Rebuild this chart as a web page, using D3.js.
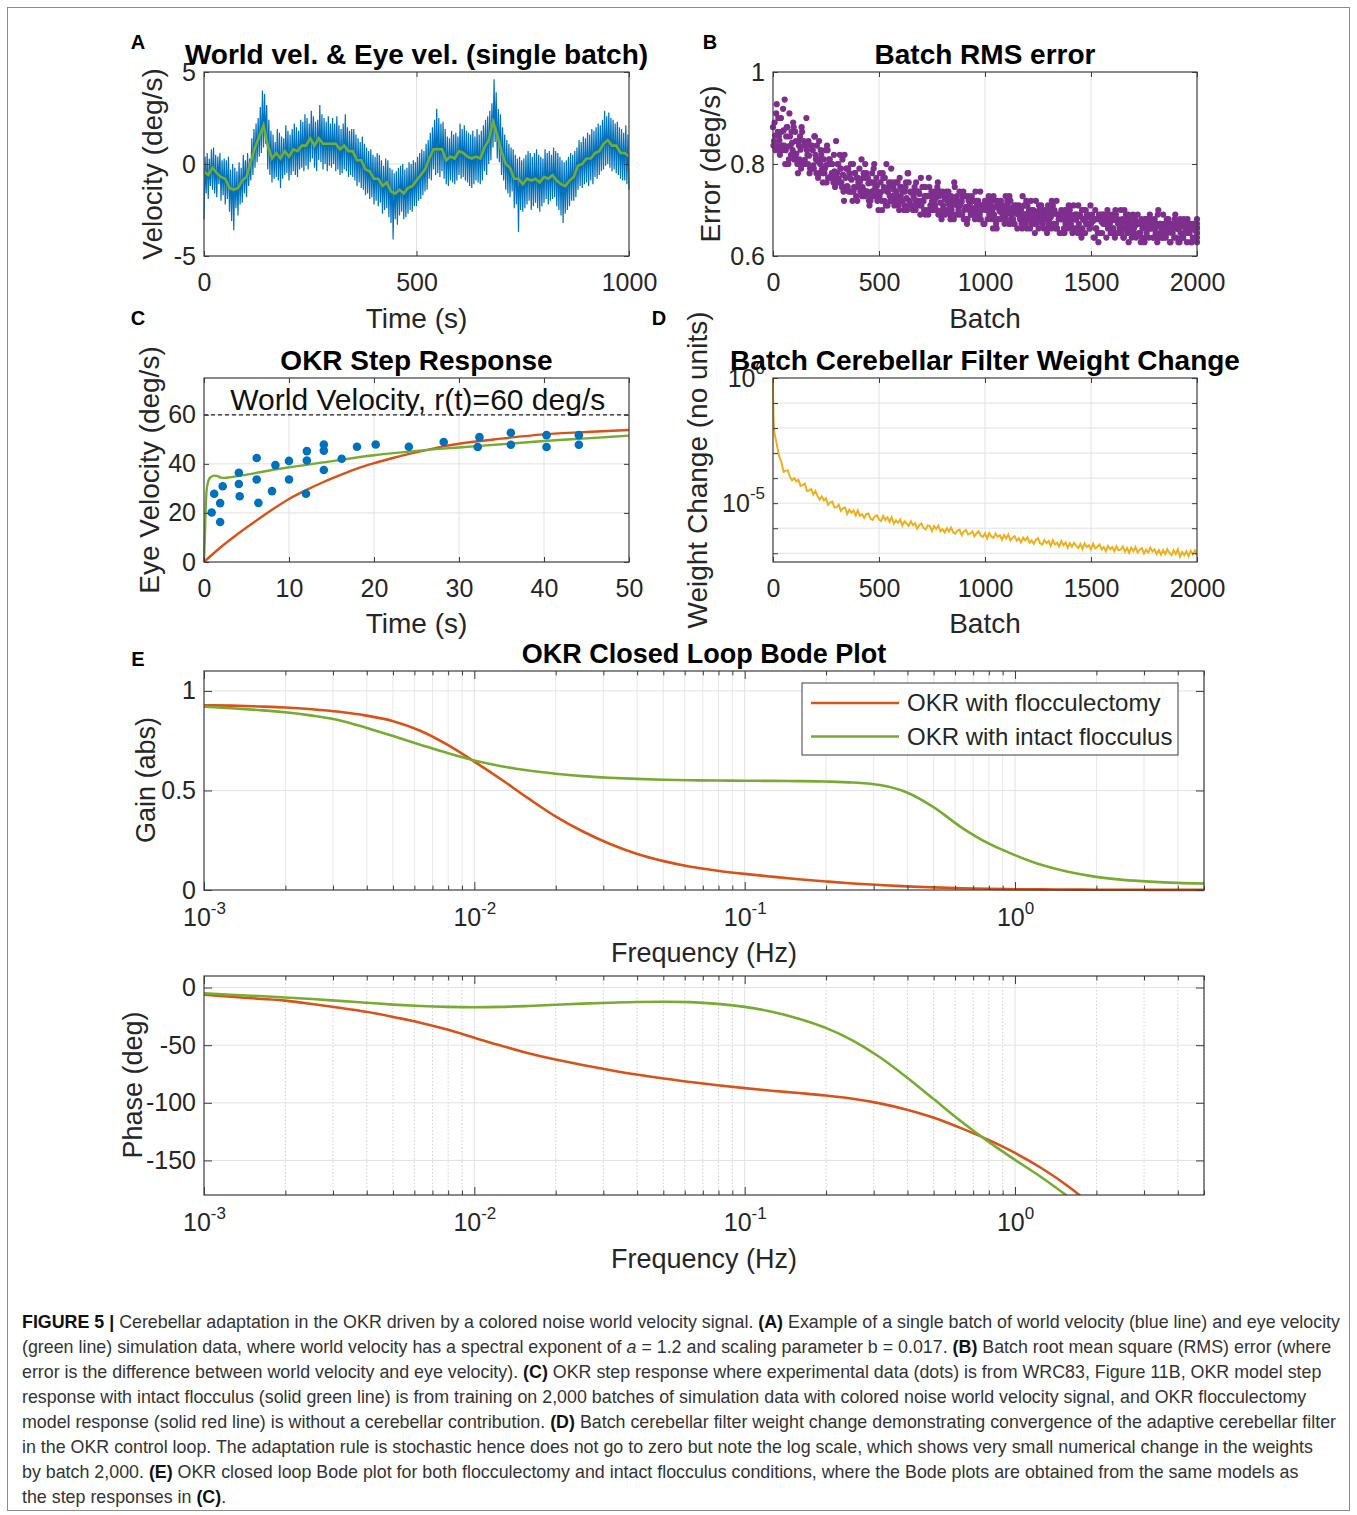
<!DOCTYPE html>
<html>
<head>
<meta charset="utf-8">
<script src="https://cdn.jsdelivr.net/npm/d3@7"></script>
<style>
  body { margin: 0; background: #fff; }
</style>
</head>
<body>
<svg id="fig" width="1357" height="1515"></svg>
<script>
// ---------------- data ----------------

// A: eye velocity (every 10 s) and world velocity (every 2.5 s), deg/s
var eyeVelA = [-0.4,-0.6,-0.2,-0.5,-0.7,-0.8,-1.3,-1.4,-1.3,-0.9,
  -0.7,0.1,0.9,1.5,2.1,1.0,0.3,0.6,0.3,0.7,
  0.4,0.8,0.7,1.0,1.0,1.4,1.0,1.4,1.1,1.1,
  1.1,1.1,0.8,1.0,0.7,0.7,0.2,0.2,-0.3,-0.4,
  -0.8,-0.8,-1.2,-1.0,-1.5,-1.6,-1.4,-1.6,-1.3,-1.2,
  -0.9,-0.6,-0.3,0.3,0.8,0.8,0.8,0.2,0.4,0.3,
  0.7,0.6,0.4,0.3,0.4,0.3,0.9,1.3,2.3,1.6,
  0.7,0.0,-0.2,-0.8,-0.8,-1.1,-0.8,-0.9,-0.8,-1.0,
  -0.7,-0.8,-0.6,-0.9,-1.1,-1.2,-0.9,-0.7,-0.1,0.0,
  0.3,0.3,0.6,0.7,1.1,1.3,1.0,1.0,0.6,0.6,0.4];
var worldVelA = [
  -3.0,0.4,-1.6,0.6,-1.9,0.3,-1.2,0.8,-1.4,0.9,-1.6,0.5,-1.8,0.4,-1.1,0.6,-2.0,0.2,-1.7,0.3,
  -2.2,0.2,-1.9,0.4,-2.6,-0.3,-3.1,0.0,-3.6,-0.2,-2.4,-0.4,-2.8,0.1,-2.2,-0.2,-2.1,0.5,-1.6,0.2,
  -1.8,0.6,-1.2,0.3,-0.9,1.4,-0.6,1.9,-0.2,2.2,0.1,2.5,0.4,3.1,0.6,4.0,0.9,3.8,1.1,3.2,
  -0.3,2.4,-0.6,1.8,-1.0,1.6,-0.8,1.2,-0.7,1.9,-0.9,1.7,-1.3,1.5,-0.8,1.4,-0.6,2.1,-0.5,1.8,
  -0.9,1.6,-0.6,1.9,-0.4,2.2,-0.6,2.0,-0.7,1.8,-0.3,2.4,-0.2,2.3,-0.4,2.7,-0.1,2.5,-0.3,2.2,
  0.1,2.9,0.3,2.6,-0.2,2.3,-0.4,2.4,0.2,3.2,0.1,2.7,-0.3,2.5,0.0,2.3,-0.4,2.6,-0.1,2.2,
  -0.2,2.5,0.0,2.2,-0.4,2.6,-0.3,2.1,-0.6,1.9,-0.5,2.2,-0.3,2.7,-0.4,2.0,-0.7,1.8,-0.6,1.9,
  -0.7,1.9,-0.9,1.6,-1.2,1.4,-1.0,1.2,-1.3,1.5,-1.4,1.1,-1.7,0.9,-1.6,0.7,-1.9,0.8,-1.8,0.5,
  -2.2,0.4,-2.0,0.6,-2.3,0.5,-2.1,0.2,-2.7,-0.1,-2.5,0.3,-2.4,0.2,-2.9,-0.2,-3.2,-0.3,-4.1,-0.5,
  -3.0,-0.4,-3.3,-0.2,-2.8,-0.1,-2.6,0.0,-3.0,-0.3,-2.9,-0.2,-2.7,0.1,-2.5,0.0,-2.6,0.2,-2.3,0.1,
  -2.3,0.4,-2.0,0.6,-1.9,0.8,-1.7,0.7,-1.5,1.1,-1.4,1.3,-0.8,1.7,-0.9,2.0,-0.3,2.4,-0.6,3.0,
  -0.5,2.5,-0.7,2.2,-0.4,2.3,-0.8,1.9,-1.1,1.5,-1.2,1.4,-0.9,1.8,-1.0,1.6,-1.1,1.7,-0.9,1.5,
  -0.6,2.2,-0.8,1.9,-0.7,2.1,-0.9,1.8,-1.0,1.7,-1.2,1.6,-1.3,1.8,-1.1,1.5,-0.9,1.9,-1.0,1.6,
  -1.1,1.8,-0.9,2.1,-0.4,2.4,-0.6,2.6,0.0,2.9,0.2,3.3,0.9,4.6,1.2,3.9,0.3,3.0,0.1,2.7,
  -0.6,2.0,-0.9,1.6,-1.4,1.3,-1.6,1.1,-1.8,0.9,-1.5,0.8,-2.4,0.5,-2.2,0.3,-3.7,0.4,-2.5,0.2,
  -2.6,0.3,-2.4,0.5,-2.2,0.7,-2.0,0.6,-2.5,0.4,-2.3,0.6,-2.1,0.8,-2.4,0.5,-2.6,0.4,-2.3,0.3,
  -2.1,0.8,-1.9,0.6,-2.2,0.7,-2.0,0.5,-1.9,0.9,-1.8,0.7,-2.3,0.6,-2.5,0.4,-2.8,0.2,-3.2,0.1,
  -2.7,0.2,-2.5,0.4,-2.3,0.6,-2.0,0.5,-2.0,0.7,-1.8,0.9,-1.4,1.3,-1.2,1.2,-1.3,1.5,-1.1,1.4,
  -1.0,1.7,-1.2,1.6,-0.9,1.9,-1.1,1.8,-0.7,2.0,-0.8,2.2,-0.6,2.1,-0.4,2.4,-0.3,2.9,-0.1,2.6,
  0.0,2.8,-0.2,2.5,-0.4,2.4,-0.3,2.2,-0.5,2.3,-0.6,2.0,-0.8,1.9,-0.9,1.7,-0.9,2.1,-1.1,1.6,
  -1.4];
var eyeTimeA = d3.range(0, 1001, 10);
var worldTimeA = d3.range(401).map(function(i) { return i * 2.5; });

// B: batch RMS error, eight interleaved runs sampled every 20 batches
var rmsRun1 = [0.88,0.84,0.87,0.83,0.86,0.81,0.85,0.80,0.83,0.79,
  0.82,0.78,0.81,0.77,0.80,0.76,0.79,0.75,0.78,0.74,
  0.77,0.73,0.78,0.72,0.76,0.73,0.77,0.71,0.76,0.72,
  0.75,0.71,0.76,0.70,0.74,0.71,0.75,0.70,0.74,0.69,
  0.74,0.70,0.73,0.69,0.74,0.68,0.73,0.69,0.72,0.68,
  0.72,0.69,0.73,0.68,0.71,0.69,0.72,0.67,0.71,0.68,
  0.71,0.67,0.72,0.68,0.70,0.67,0.71,0.66,0.70,0.67,
  0.70,0.66,0.71,0.66,0.69,0.67,0.70,0.65,0.69,0.66,
  0.69,0.65,0.70,0.66,0.68,0.65,0.69,0.64,0.68,0.66,
  0.68,0.64,0.69,0.65,0.67,0.64,0.68,0.65,0.67,0.64,0.67];
var rmsRun2 = [0.85,0.90,0.84,0.88,0.82,0.87,0.81,0.85,0.80,0.84,
  0.78,0.83,0.79,0.81,0.76,0.80,0.75,0.79,0.74,0.78,
  0.75,0.77,0.74,0.76,0.73,0.78,0.72,0.75,0.73,0.76,
  0.72,0.75,0.71,0.74,0.72,0.75,0.70,0.73,0.71,0.74,
  0.70,0.73,0.71,0.72,0.69,0.73,0.70,0.72,0.69,0.71,
  0.70,0.72,0.68,0.71,0.70,0.72,0.69,0.70,0.68,0.71,
  0.69,0.70,0.67,0.71,0.68,0.70,0.67,0.69,0.68,0.70,
  0.67,0.69,0.66,0.70,0.67,0.69,0.66,0.68,0.67,0.69,
  0.66,0.68,0.65,0.69,0.66,0.68,0.65,0.67,0.66,0.68,
  0.65,0.67,0.64,0.68,0.65,0.67,0.64,0.66,0.65,0.67,0.64];
var rmsRun3 = [0.862,0.851,0.873,0.838,0.846,0.822,0.831,0.809,0.818,0.797,
  0.806,0.788,0.797,0.772,0.784,0.768,0.777,0.752,0.766,0.749,
  0.761,0.742,0.758,0.741,0.752,0.739,0.748,0.731,0.744,0.728,
  0.741,0.726,0.738,0.722,0.735,0.719,0.731,0.718,0.727,0.716,
  0.724,0.712,0.721,0.709,0.718,0.707,0.716,0.704,0.713,0.701,
  0.709,0.699,0.707,0.697,0.705,0.695,0.703,0.692,0.701,0.691,
  0.698,0.689,0.697,0.686,0.695,0.684,0.693,0.682,0.690,0.681,
  0.688,0.679,0.686,0.677,0.684,0.676,0.682,0.674,0.680,0.672,
  0.678,0.671,0.676,0.669,0.675,0.667,0.673,0.666,0.671,0.664,
  0.670,0.662,0.668,0.661,0.667,0.659,0.665,0.657,0.663,0.656,0.661];
var rmsRun4 = [0.91,0.83,0.94,0.81,0.89,0.80,0.88,0.84,0.79,0.86,
  0.81,0.76,0.84,0.80,0.77,0.82,0.72,0.79,0.72,0.77,
  0.74,0.80,0.71,0.79,0.74,0.70,0.80,0.72,0.76,0.70,
  0.74,0.78,0.71,0.76,0.69,0.73,0.77,0.70,0.75,0.68,
  0.73,0.69,0.76,0.70,0.73,0.67,0.72,0.74,0.69,0.67,
  0.72,0.70,0.66,0.72,0.68,0.73,0.67,0.70,0.66,0.72,
  0.68,0.65,0.71,0.69,0.66,0.72,0.67,0.68,0.65,0.71,
  0.66,0.69,0.64,0.70,0.66,0.68,0.63,0.69,0.67,0.65,
  0.70,0.66,0.64,0.69,0.65,0.67,0.63,0.68,0.66,0.64,
  0.69,0.65,0.67,0.63,0.68,0.66,0.64,0.68,0.63,0.67,0.65];
var rmsRun5 = [0.84,0.87,0.83,0.86,0.84,0.82,0.84,0.80,0.82,0.79,
  0.81,0.80,0.78,0.80,0.77,0.78,0.76,0.77,0.77,0.75,
  0.76,0.75,0.74,0.76,0.75,0.73,0.75,0.74,0.72,0.74,
  0.73,0.74,0.72,0.73,0.74,0.72,0.73,0.71,0.72,0.73,
  0.71,0.72,0.70,0.72,0.71,0.70,0.72,0.70,0.71,0.70,
  0.71,0.70,0.69,0.71,0.69,0.70,0.68,0.70,0.69,0.69,
  0.68,0.70,0.69,0.68,0.69,0.68,0.67,0.69,0.68,0.67,
  0.69,0.68,0.67,0.68,0.67,0.68,0.66,0.68,0.67,0.67,
  0.66,0.68,0.67,0.66,0.67,0.66,0.67,0.66,0.65,0.67,
  0.66,0.65,0.67,0.66,0.65,0.66,0.65,0.67,0.65,0.66,0.65];
var rmsRun6 = [0.89,0.86,0.92,0.88,0.87,0.85,0.86,0.84,0.85,0.83,
  0.84,0.82,0.83,0.81,0.82,0.80,0.81,0.79,0.80,0.78,
  0.79,0.78,0.77,0.78,0.77,0.76,0.77,0.76,0.75,0.76,
  0.75,0.76,0.74,0.75,0.74,0.75,0.73,0.74,0.73,0.74,
  0.73,0.74,0.72,0.73,0.72,0.73,0.71,0.72,0.72,0.71,
  0.72,0.71,0.72,0.70,0.71,0.71,0.70,0.71,0.70,0.71,
  0.70,0.70,0.69,0.70,0.70,0.69,0.70,0.68,0.69,0.69,
  0.68,0.69,0.69,0.68,0.69,0.68,0.68,0.69,0.67,0.68,
  0.68,0.67,0.68,0.68,0.67,0.68,0.67,0.67,0.68,0.66,
  0.67,0.67,0.66,0.67,0.67,0.66,0.67,0.66,0.67,0.66,0.66];
var rmsRun7 = [0.83,0.82,0.84,0.80,0.83,0.81,0.79,0.80,0.78,0.79,
  0.77,0.78,0.76,0.77,0.75,0.76,0.74,0.75,0.74,0.73,
  0.74,0.73,0.72,0.73,0.72,0.72,0.71,0.72,0.71,0.71,
  0.72,0.70,0.71,0.70,0.71,0.70,0.69,0.70,0.70,0.69,
  0.69,0.70,0.68,0.69,0.69,0.68,0.69,0.68,0.68,0.67,
  0.68,0.68,0.67,0.68,0.67,0.67,0.68,0.66,0.67,0.67,
  0.66,0.67,0.66,0.67,0.65,0.66,0.66,0.65,0.66,0.66,
  0.65,0.66,0.65,0.65,0.66,0.64,0.65,0.65,0.64,0.65,
  0.64,0.65,0.64,0.65,0.64,0.64,0.65,0.63,0.64,0.64,
  0.63,0.64,0.64,0.63,0.64,0.63,0.64,0.63,0.63,0.64,0.63];
var rmsRun8 = [0.93,0.90,0.80,0.91,0.88,0.78,0.87,0.90,0.84,0.86,
  0.85,0.79,0.83,0.78,0.85,0.79,0.82,0.74,0.80,0.72,
  0.81,0.77,0.73,0.80,0.70,0.78,0.74,0.79,0.73,0.77,
  0.70,0.78,0.74,0.71,0.77,0.69,0.75,0.72,0.76,0.70,
  0.74,0.68,0.75,0.71,0.74,0.68,0.73,0.70,0.74,0.67,
  0.73,0.66,0.72,0.70,0.73,0.67,0.71,0.69,0.73,0.66,
  0.72,0.68,0.70,0.66,0.71,0.69,0.72,0.65,0.70,0.68,
  0.71,0.65,0.70,0.67,0.71,0.64,0.69,0.67,0.70,0.65,
  0.69,0.66,0.70,0.63,0.69,0.67,0.68,0.64,0.69,0.66,
  0.70,0.64,0.68,0.66,0.69,0.63,0.68,0.65,0.67,0.64,0.68];
var rmsRuns = [rmsRun1, rmsRun5, rmsRun2, rmsRun6, rmsRun3, rmsRun7, rmsRun4, rmsRun8];

// C: OKR step response
var stepDataT = [0.9,1.2,1.9,1.9,2.2,4.1,4.1,4.2,6.2,6.2,6.4,8.0,8.4,10.0,10.0,12.1,12.1,12.0,
  14.1,14.1,14.1,16.2,18.0,20.2,24.1,28.2,32.4,32.2,36.1,36.1,40.3,40.3,44.1,44.1];
var stepDataV = [20.2,27.8,24.0,16.3,30.9,36.4,31.8,26.8,42.4,33.6,24.1,28.9,39.5,41.2,33.6,45.2,41.4,27.8,
  47.9,45.4,37.5,42.1,47.0,47.9,47.0,48.9,50.9,46.9,52.7,47.8,51.7,46.9,51.7,47.8];
var intactT = [0,0.1,0.2,0.3,0.5,0.8,1.2,1.6,2,2.5,3,4,6,8,10,14,20,25,30,35,40,45,50];
var intactV = [0,10,22,29,33,34.6,35.2,35,34.4,34.3,34.5,35,36.2,37.5,38.6,40.6,43.5,45.3,46.7,48,49.3,50.4,51.5];
var floccT = [0,2,4,6,8,10,12,14,16,18,20,22,24,26,28,30,35,40,45,50];
var floccV = [0,6.1,11.5,16.5,21.3,25.7,29.3,32.5,35.4,38.1,40.3,42.2,44.0,45.5,47.0,48.2,50.3,52.0,53.0,53.8];
var worldStep = 60;

// D: log10 of batch weight change
var wBatch = [0,1,2,3,4,6,8,10,13,16,20,25,30].concat(d3.range(40, 2001, 10));
var wLog = [0,-0.9,-1.4,-1.7,-1.9,-2.1,-2.25,-2.35,-2.45,-2.55,-2.75,-2.95,-3.15,
  -3.37,-3.75,-3.70,-3.69,-3.95,-4.09,-4.00,-4.13,-4.07,-4.31,
  -4.28,-4.22,-4.51,-4.50,-4.44,-4.66,-4.51,-4.71,-4.86,-4.73,
  -4.89,-4.81,-5.07,-4.98,-4.94,-5.17,-5.16,-5.06,-5.31,-5.20,
  -5.17,-5.43,-5.27,-5.38,-5.29,-5.49,-5.29,-5.50,-5.44,-5.59,
  -5.44,-5.41,-5.62,-5.67,-5.53,-5.49,-5.65,-5.72,-5.51,-5.67,
  -5.57,-5.75,-5.56,-5.82,-5.69,-5.78,-5.65,-5.89,-5.73,-5.81,
  -5.91,-5.72,-5.88,-5.80,-6.02,-5.88,-5.81,-5.99,-6.05,-5.88,
  -5.92,-6.11,-5.91,-6.03,-5.90,-6.12,-6.04,-6.17,-6.00,-6.13,
  -5.97,-6.17,-6.22,-6.09,-6.06,-6.28,-6.13,-6.07,-6.25,-6.21,
  -6.13,-6.33,-6.21,-6.12,-6.30,-6.35,-6.21,-6.41,-6.19,-6.33,
  -6.39,-6.21,-6.34,-6.28,-6.47,-6.27,-6.41,-6.25,-6.49,-6.38,
  -6.32,-6.50,-6.40,-6.57,-6.38,-6.49,-6.36,-6.58,-6.49,-6.62,
  -6.47,-6.40,-6.60,-6.65,-6.47,-6.60,-6.51,-6.71,-6.48,-6.65,
  -6.58,-6.73,-6.51,-6.68,-6.57,-6.79,-6.60,-6.74,-6.58,-6.70,
  -6.79,-6.63,-6.83,-6.61,-6.75,-6.68,-6.84,-6.62,-6.81,-6.74,
  -6.65,-6.85,-6.75,-6.92,-6.71,-6.84,-6.75,-6.92,-6.72,-6.88,
  -6.86,-6.73,-6.94,-6.79,-6.99,-6.78,-6.92,-6.75,-6.97,-6.86,
  -6.80,-7.01,-6.86,-6.97,-6.78,-6.93,-6.85,-7.03,-6.88,-7.06,
  -6.88,-7.03,-6.84,-6.99,-7.08,-6.88,-7.03,-6.84,-7.14,-6.95,
  -7.08,-6.92,-7.12,-6.90,-7.05,-6.89,-7.08];

// E: Bode plot, frequency exponents -3.0 .. 0.7 step 0.1
var freqExp = d3.range(38).map(function(i) { return -3 + i / 10; });
var gainFlocc = [0.928,0.926,0.922,0.917,0.908,0.895,0.876,0.848,0.80,0.73,
  0.645,0.555,0.46,0.37,0.295,0.232,0.182,0.145,0.117,0.097,
  0.081,0.067,0.054,0.043,0.033,0.025,0.018,0.013,0.009,0.006,
  0.004,0.003,0.002,0.0015,0.001,0.0008,0.0006,0.0005];
var gainIntact = [0.921,0.913,0.904,0.893,0.876,0.853,0.815,0.773,0.730,0.688,
  0.651,0.622,0.60,0.584,0.572,0.564,0.558,0.554,0.551,0.55,
  0.549,0.548,0.547,0.545,0.54,0.527,0.49,0.415,0.316,0.235,
  0.175,0.125,0.09,0.066,0.051,0.042,0.036,0.033];
var phaseFlocc = [-6.3,-8,-9.7,-11.4,-14.3,-17.5,-21,-25.5,-30.5,-36.5,
  -43.5,-50.5,-57,-62.5,-67.2,-71.5,-75.5,-79,-82,-84.8,
  -87.3,-89.5,-91.5,-93.7,-96.5,-100.5,-106,-113,-122,-132,
  -143.5,-157,-173,-192];
var phaseIntact = [-4.9,-6.2,-7.4,-8.6,-10,-11.6,-13.2,-14.8,-16,-16.8,
  -17.1,-16.8,-16,-15,-14,-13.2,-12.5,-12.3,-12.7,-14.2,
  -16.8,-21,-27,-35,-46,-60.5,-78,-97,-116,-133.5,
  -149.5,-165,-182];

// ---------------- drawing ----------------
var FONT = '"Liberation Sans", Arial, Helvetica, sans-serif';
var AX = "#3c3c3c", TXT = "#262626", GRID = "#e2e2e2";
var BLUE = "#0072BD", RED = "#D95319", YEL = "#EDB120", PURP = "#7E2F8E", GRN = "#77AC30";
var svg = d3.select("#fig");

svg.append("rect").attr("x", 7.5).attr("y", 7.5).attr("width", 1342).attr("height", 1503)
  .attr("fill", "none").attr("stroke", "#8c8c8c").attr("stroke-width", 1);

function txt(x, y, s, size, opt) {
  opt = opt || {};
  var t = svg.append("text").attr("x", x).attr("y", y).text(s)
    .attr("font-size", size).attr("font-family", FONT)
    .attr("fill", opt.fill || TXT)
    .attr("font-weight", opt.bold ? "bold" : null)
    .attr("text-anchor", opt.anchor || "middle");
  if (opt.rot) t.attr("transform", "rotate(-90," + x + "," + y + ")").attr("dy", "0.35em");
  return t;
}

function gridLines(g, vals, fn, vertical, len, color, dash) {
  g.append("g").selectAll("line").data(vals).enter().append("line")
    .attr(vertical ? "x1" : "y1", fn).attr(vertical ? "x2" : "y2", fn)
    .attr(vertical ? "y1" : "x1", 0).attr(vertical ? "y2" : "x2", len)
    .attr("stroke", color).attr("stroke-width", 1)
    .attr("stroke-dasharray", dash || null);
}

function tickAxis(g, axisFn, scale, vals, size, tx, ty, fmt, pad, fs) {
  var a = axisFn(scale).tickValues(vals).tickSize(-size).tickPadding(pad || 0)
    .tickFormat(fmt || function() { return ""; });
  var s = g.append("g").attr("transform", "translate(" + tx + "," + ty + ")").call(a)
    .attr("font-family", FONT).attr("font-size", fs);
  s.select(".domain").remove();
  s.selectAll(".tick line").attr("stroke", AX).attr("stroke-width", 1);
  s.selectAll(".tick text").attr("fill", TXT);
  return s;
}

function supLabels(sel) {
  sel.selectAll(".tick text").each(function(d) {
    if (!this.textContent) return;
    var e = Math.round(Math.log10(d));
    var t = d3.select(this).text(null);
    t.append("tspan").text("10");
    t.append("tspan").attr("font-size", "0.68em").attr("dy", "-0.72em").text(e);
  });
}

function frameAxes(b, xs, ys, o) {
  var g = svg.append("g").attr("transform", "translate(" + b.x + "," + b.y + ")");
  var gridG = g.append("g");
  if (o.xMinorGrid) gridLines(gridG, o.xMinorGrid, function(d) { return xs(d); }, true, b.h, o.minorColor, o.minorDash);
  if (o.xGrid) gridLines(gridG, o.xGrid, function(d) { return xs(d); }, true, b.h, GRID);
  if (o.yGrid) gridLines(gridG, o.yGrid, function(d) { return ys(d); }, false, b.w, GRID);
  var plot = g.append("g");
  var axG = g.append("g");
  var xb = tickAxis(axG, d3.axisBottom, xs, o.xTicks, o.tl, 0, b.h, o.xFmt, o.xPad, o.fs);
  tickAxis(axG, d3.axisTop, xs, o.xTicks, o.tl, 0, 0, null, 0, o.fs);
  var yl = tickAxis(axG, d3.axisLeft, ys, o.yTicks, o.tl, 0, 0, o.yFmt, o.yPad, o.fs);
  tickAxis(axG, d3.axisRight, ys, o.yTicks, o.tl, b.w, 0, null, 0, o.fs);
  if (o.xMinor) {
    tickAxis(axG, d3.axisBottom, xs, o.xMinor, o.tl * 0.55, 0, b.h, null, 0, o.fs);
    tickAxis(axG, d3.axisTop, xs, o.xMinor, o.tl * 0.55, 0, 0, null, 0, o.fs);
  }
  axG.append("rect").attr("width", b.w).attr("height", b.h)
    .attr("fill", "none").attr("stroke", AX).attr("stroke-width", 1.2);
  return { g: g, plot: plot, xb: xb, yl: yl };
}

var plain = function(d) { return String(d); };

// ---- Panel A ----
var boxA = { x: 204, y: 72, w: 425, h: 184 };
var xA = d3.scaleLinear().domain([0, 1000]).range([0, boxA.w]);
var yA = d3.scaleLinear().domain([-5, 5]).range([boxA.h, 0]);
var pA = frameAxes(boxA, xA, yA, { xTicks: [0, 500, 1000], yTicks: [-5, 0, 5], xGrid: [500], yGrid: [0],
  tl: 5, fs: 25, xFmt: plain, yFmt: plain, xPad: 17, yPad: 8 });
pA.plot.append("path").datum(worldVelA)
  .attr("d", d3.line().x(function(d, i) { return xA(worldTimeA[i]); }).y(function(d) { return yA(d); }))
  .attr("fill", "none").attr("stroke", BLUE).attr("stroke-width", 1.2);
pA.plot.append("path").datum(eyeVelA)
  .attr("d", d3.line().x(function(d, i) { return xA(eyeTimeA[i]); }).y(function(d) { return yA(d); }))
  .attr("fill", "none").attr("stroke", GRN).attr("stroke-width", 2.6);
txt(416.5, 64, "World vel. & Eye vel. (single batch)", 28, { bold: true, fill: "#000" });
txt(416.5, 328, "Time (s)", 28);
txt(152, 164, "Velocity (deg/s)", 28, { rot: true });
txt(138, 49, "A", 20, { bold: true, fill: "#000" });

// ---- Panel B ----
var boxB = { x: 773, y: 72, w: 424, h: 184 };
var xB = d3.scaleLinear().domain([0, 2000]).range([0, boxB.w]);
var yB = d3.scaleLinear().domain([0.6, 1]).range([boxB.h, 0]);
var pB = frameAxes(boxB, xB, yB, { xTicks: [0, 500, 1000, 1500, 2000], yTicks: [0.6, 0.8, 1],
  xGrid: [500, 1000, 1500], yGrid: [0.8], tl: 5, fs: 25, xFmt: plain, yFmt: plain, xPad: 17, yPad: 8 });
var bPts = [];
rmsRuns.forEach(function(run, k) {
  run.forEach(function(v, i) { bPts.push({ b: Math.min(2000, i * 20 + k * 2.5), v: v }); });
});
pB.plot.selectAll("circle").data(bPts).enter().append("circle")
  .attr("cx", function(d) { return xB(d.b); }).attr("cy", function(d) { return yB(d.v); })
  .attr("r", 3.1).attr("fill", PURP);
txt(985, 64, "Batch RMS error", 28, { bold: true, fill: "#000" });
txt(985, 328, "Batch", 28);
txt(710, 164, "Error (deg/s)", 28, { rot: true });
txt(710, 49, "B", 20, { bold: true, fill: "#000" });

// ---- Panel C ----
var boxC = { x: 204, y: 378, w: 425, h: 184 };
var xC = d3.scaleLinear().domain([0, 50]).range([0, boxC.w]);
var yC = d3.scaleLinear().domain([0, 75]).range([boxC.h, 0]);
var pC = frameAxes(boxC, xC, yC, { xTicks: [0, 10, 20, 30, 40, 50], yTicks: [0, 20, 40, 60],
  xGrid: [10, 20, 30, 40], yGrid: [20, 40, 60], tl: 5, fs: 25, xFmt: plain, yFmt: plain, xPad: 17, yPad: 8 });
pC.plot.selectAll("line.ref").data([worldStep]).enter().append("line").attr("class", "ref")
  .attr("x1", 0).attr("x2", boxC.w).attr("y1", function(d) { return yC(d); }).attr("y2", function(d) { return yC(d); })
  .attr("stroke", "#222").attr("stroke-width", 1.2).attr("stroke-dasharray", "4,3");
pC.plot.append("path").datum(floccV)
  .attr("d", d3.line().curve(d3.curveMonotoneX).x(function(d, i) { return xC(floccT[i]); }).y(function(d) { return yC(d); }))
  .attr("fill", "none").attr("stroke", RED).attr("stroke-width", 2.4);
pC.plot.append("path").datum(intactV)
  .attr("d", d3.line().curve(d3.curveMonotoneX).x(function(d, i) { return xC(intactT[i]); }).y(function(d) { return yC(d); }))
  .attr("fill", "none").attr("stroke", GRN).attr("stroke-width", 2.4);
pC.plot.selectAll("circle").data(stepDataV).enter().append("circle")
  .attr("cx", function(d, i) { return xC(stepDataT[i]); }).attr("cy", function(d) { return yC(d); })
  .attr("r", 4.3).attr("fill", BLUE);
pC.g.append("text").attr("x", xC(3.1)).attr("y", yC(worldStep) - 5)
  .text("World Velocity, r(t)=" + worldStep + " deg/s")
  .attr("font-family", FONT).attr("font-size", 30).attr("fill", "#111");
txt(416.5, 370, "OKR Step Response", 28, { bold: true, fill: "#000" });
txt(416.5, 633, "Time (s)", 28);
txt(149, 470, "Eye Velocity (deg/s)", 28, { rot: true });
txt(138, 325, "C", 20, { bold: true, fill: "#000" });

// ---- Panel D ----
var boxD = { x: 773, y: 378, w: 424, h: 184 };
var xD = d3.scaleLinear().domain([0, 2000]).range([0, boxD.w]);
var yD = d3.scaleLog().domain([Math.pow(10, -7.35), 1]).range([boxD.h, 0]);
var decades = [1, 1e-1, 1e-2, 1e-3, 1e-4, 1e-5, 1e-6, 1e-7];
var pD = frameAxes(boxD, xD, yD, { xTicks: [0, 500, 1000, 1500, 2000], yTicks: decades,
  xGrid: [500, 1000, 1500], yGrid: decades.slice(1), tl: 5, fs: 25, xFmt: plain, xPad: 17, yPad: 8,
  yFmt: function(d) { var e = Math.round(Math.log10(d)); return (e === 0 || e === -5) ? "1" : ""; } });
supLabels(pD.yl);
pD.plot.append("path").datum(wLog)
  .attr("d", d3.line().x(function(d, i) { return xD(wBatch[i]); }).y(function(d) { return yD(Math.pow(10, d)); }))
  .attr("fill", "none").attr("stroke", YEL).attr("stroke-width", 2);
txt(985, 370, "Batch Cerebellar Filter Weight Change", 28, { bold: true, fill: "#000" });
txt(985, 633, "Batch", 28);
txt(697, 470, "Weight Change (no units)", 28, { rot: true });
txt(659, 325, "D", 20, { bold: true, fill: "#000" });

// ---- Panel E ----
var freqMajor = [1e-3, 1e-2, 1e-1, 1];
var freqMinor = [];
[1e-3, 1e-2, 1e-1, 1].forEach(function(dec) {
  [2, 3, 4, 5, 6, 7, 8, 9].forEach(function(m) { if (m * dec <= 5.0001) freqMinor.push(m * dec); });
});
var supFmt = function() { return "1"; };

var boxG = { x: 204, y: 671, w: 1000, h: 219 };
var xE = d3.scaleLog().domain([1e-3, 5]).range([0, boxG.w]);
var yG = d3.scaleLinear().domain([0, 1.1]).range([boxG.h, 0]);
var pG = frameAxes(boxG, xE, yG, { xTicks: freqMajor, xMinor: freqMinor, yTicks: [0, 0.5, 1],
  xGrid: freqMajor.slice(1), xMinorGrid: freqMinor, minorColor: "#e8e8e8",
  yGrid: [0.5, 1], tl: 8, fs: 25, xFmt: supFmt, yFmt: plain, xPad: 18, yPad: 8 });
supLabels(pG.xb);
var lineE = function(vals, ys) {
  return d3.line().curve(d3.curveMonotoneX)
    .x(function(d, i) { return xE(Math.pow(10, freqExp[i])); }).y(function(d) { return ys(d); })(vals);
};
pG.plot.append("path").attr("d", lineE(gainFlocc, yG)).attr("fill", "none").attr("stroke", RED).attr("stroke-width", 2.6);
pG.plot.append("path").attr("d", lineE(gainIntact, yG)).attr("fill", "none").attr("stroke", GRN).attr("stroke-width", 2.6);

// legend
var legItems = [{ name: "OKR with flocculectomy", color: RED }, { name: "OKR with intact flocculus", color: GRN }];
var leg = pG.g.append("g").attr("transform", "translate(" + (boxG.w - 402) + ",12)");
leg.append("rect").attr("width", 376).attr("height", 72).attr("fill", "#fff")
  .attr("stroke", AX).attr("stroke-width", 1);
var li = leg.selectAll("g.it").data(legItems).enter().append("g").attr("class", "it")
  .attr("transform", function(d, i) { return "translate(0," + (20 + i * 33.5) + ")"; });
li.append("line").attr("x1", 9).attr("x2", 97).attr("stroke", function(d) { return d.color; }).attr("stroke-width", 2.6);
li.append("text").attr("x", 105).attr("dy", "0.35em").text(function(d) { return d.name; })
  .attr("font-family", FONT).attr("font-size", 24).attr("fill", TXT);

txt(704, 663, "OKR Closed Loop Bode Plot", 27, { bold: true, fill: "#000" });
txt(704, 962, "Frequency (Hz)", 27);
txt(146, 780, "Gain (abs)", 27, { rot: true });
txt(138, 666, "E", 20, { bold: true, fill: "#000" });

var boxP = { x: 204, y: 976, w: 1000, h: 219 };
var yP = d3.scaleLinear().domain([-180, 10]).range([boxP.h, 0]);
var pP = frameAxes(boxP, xE, yP, { xTicks: freqMajor, xMinor: freqMinor, yTicks: [-150, -100, -50, 0],
  xGrid: freqMajor.slice(1), xMinorGrid: freqMinor, minorColor: "#cfcfcf", minorDash: "1.5,2",
  yGrid: [-150, -100, -50, 0], tl: 8, fs: 25, xFmt: supFmt, yFmt: plain, xPad: 18, yPad: 8 });
supLabels(pP.xb);
svg.append("defs").append("clipPath").attr("id", "clipPh").append("rect")
  .attr("width", boxP.w).attr("height", boxP.h);
pP.plot.attr("clip-path", "url(#clipPh)");
pP.plot.append("path").attr("d", lineE(phaseFlocc, yP)).attr("fill", "none").attr("stroke", RED).attr("stroke-width", 2.6);
pP.plot.append("path").attr("d", lineE(phaseIntact, yP)).attr("fill", "none").attr("stroke", GRN).attr("stroke-width", 2.6);
txt(704, 1268, "Frequency (Hz)", 27);
txt(133, 1085, "Phase (deg)", 27, { rot: true });

// ---- caption ----
var capLines = [
  [["FIGURE 5 | ", "b"], ["Cerebellar adaptation in the OKR driven by a colored noise world velocity signal. "], ["(A)", "b"], [" Example of a single batch of world velocity (blue line) and eye velocity"]],
  [["(green line) simulation data, where world velocity has a spectral exponent of "], ["a", "i"], [" = 1.2 and scaling parameter b = 0.017. "], ["(B)", "b"], [" Batch root mean square (RMS) error (where"]],
  [["error is the difference between world velocity and eye velocity). "], ["(C)", "b"], [" OKR step response where experimental data (dots) is from WRC83, Figure 11B, OKR model step"]],
  [["response with intact flocculus (solid green line) is from training on 2,000 batches of simulation data with colored noise world velocity signal, and OKR flocculectomy"]],
  [["model response (solid red line) is without a cerebellar contribution. "], ["(D)", "b"], [" Batch cerebellar filter weight change demonstrating convergence of the adaptive cerebellar filter"]],
  [["in the OKR control loop. The adaptation rule is stochastic hence does not go to zero but note the log scale, which shows very small numerical change in the weights"]],
  [["by batch 2,000. "], ["(E)", "b"], [" OKR closed loop Bode plot for both flocculectomy and intact flocculus conditions, where the Bode plots are obtained from the same models as"]],
  [["the step responses in "], ["(C)", "b"], ["."]]
];
var cap = svg.append("g").attr("font-family", FONT).attr("fill", "#333");
var capText = cap.selectAll("text").data(capLines).enter().append("text")
  .attr("x", 22).attr("y", function(d, i) { return 1327.5 + i * 25; }).attr("font-size", 16);
capText.selectAll("tspan").data(function(d) { return d; }).enter().append("tspan")
  .text(function(d) { return d[0]; })
  .attr("font-weight", function(d) { return d[1] === "b" ? "bold" : null; })
  .attr("font-style", function(d) { return d[1] === "i" ? "italic" : null; })
  .attr("fill", function(d) { return d[1] === "b" ? "#111" : null; });
var firstLen = capText.node().getComputedTextLength();
capText.attr("font-size", 16 * 1319 / firstLen);
</script>
</body>
</html>
